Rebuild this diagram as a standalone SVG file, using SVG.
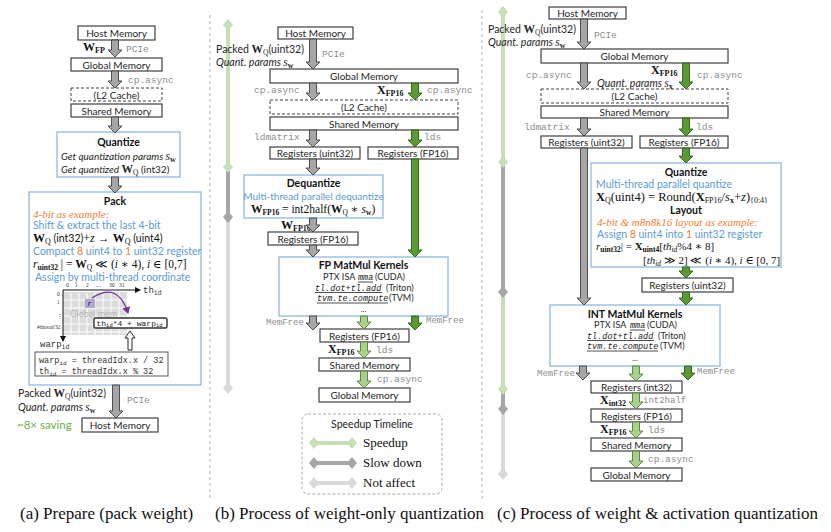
<svg xmlns="http://www.w3.org/2000/svg" width="831" height="532" viewBox="0 0 831 532">
<style>
.box{fill:#fff;stroke:#404040;stroke-width:1.2}
.dash{fill:#fff;stroke:#404040;stroke-width:1;stroke-dasharray:3 2}
.blue{fill:#fff;stroke:#9dc3e6;stroke-width:1.5}
.lbl{font-family:Lato,"Open Sans",sans-serif;font-size:10px;fill:#262626;text-anchor:middle}
.s{font-family:Lato,"Open Sans",sans-serif;font-size:9.5px;fill:#262626}
.hd{font-family:Lato,"Open Sans",sans-serif;font-size:10.5px;font-weight:bold;fill:#111;text-anchor:middle}
.bt{fill:#5b9bd5}
.or{fill:#ed7d31}
.gr{fill:#70ad47}
.mono{font-family:"Liberation Mono","DejaVu Sans Mono",monospace;font-size:9.5px;fill:#8c8c8c}
.mk{font-family:"Liberation Mono","DejaVu Sans Mono",monospace;font-size:9px;fill:#222}
.mi{font-family:"Liberation Mono","DejaVu Sans Mono",monospace;font-size:8.5px;font-style:italic;fill:#222}
.m{font-family:"Liberation Serif","DejaVu Serif",serif;font-size:11px;fill:#111}
.ser{font-family:"Liberation Serif","DejaVu Serif",serif}
.b{font-weight:bold}
.i{font-style:italic}
.ag{fill:#a6a6a6;stroke:#404040;stroke-width:0.9}
.ad{fill:#5a9a33;stroke:#2f5e1a;stroke-width:0.9}
.al{fill:#a9d18e;stroke:#4f7f2f;stroke-width:0.9}
.cap{font-family:"Liberation Serif","DejaVu Serif",serif;font-size:17px;fill:#111}
.div{stroke:#b0b0b0;stroke-width:1;stroke-dasharray:3 3;fill:none}
.ul{stroke:#222;stroke-width:0.8}
</style>
<defs>
<polygon id="dm" points="0,-6 5,0 0,6 -5,0"/>
<marker id="pa" markerWidth="8" markerHeight="8" refX="6" refY="4" orient="auto" markerUnits="userSpaceOnUse"><path d="M0,0 L7,4 L0,8 Z" fill="#7030a0"/></marker>
<marker id="ax" markerWidth="6" markerHeight="6" refX="5" refY="3" orient="auto" markerUnits="userSpaceOnUse"><path d="M0,0 L6,3 L0,6 Z" fill="#111"/></marker>
</defs>
<rect width="831" height="532" fill="#fff"/>

<g id="dividers">
<line class="div" x1="210" y1="15" x2="210" y2="500"/>
<line class="div" x1="482" y1="10" x2="482" y2="500"/>
</g>

<!-- Panel A -->
<g id="a-host1"><rect class="box" x="78" y="26" width="77" height="14"/><text class="lbl" x="116.5" y="37">Host Memory</text></g>
<g id="a-global"><rect class="box" x="71" y="58" width="91" height="13"/><text class="lbl" x="116.5" y="68.5">Global Memory</text></g>
<g id="a-l2"><rect class="dash" x="71" y="88" width="91" height="13"/><text class="lbl" x="116.5" y="98.5">(L2 Cache)</text></g>
<g id="a-shared"><rect class="box" x="71" y="104" width="91" height="13"/><text class="lbl" x="116.5" y="114.5">Shared Memory</text></g>
<g id="a-quantize"><rect class="blue" x="57" y="132" width="123" height="45"/>
<text class="hd" x="118.5" y="146">Quantize</text>
<text class="s i" x="61" y="160" style="font-size:10px">Get quantization params <tspan class="ser" style="font-size:11.5px">s</tspan><tspan class="ser b" style="font-size:8px;font-style:normal" dy="2">w</tspan></text>
<text class="s i" x="61" y="173" style="font-size:10px">Get quantized <tspan class="ser b" style="font-size:11.5px;font-style:normal">W</tspan><tspan class="ser" style="font-size:7.5px;font-style:normal" dy="2">Q</tspan><tspan dy="-2" style="font-style:normal"> (int32)</tspan></text>
</g>
<g id="a-pack"><rect class="blue" x="29" y="192" width="172" height="193"/>
<text class="hd" x="115" y="205">Pack</text>
<text class="ser i or" x="33" y="218" style="font-size:11px">4-bit as example:</text>
<text class="s bt" x="33" y="229" style="font-size:10.5px">Shift &amp; extract the last 4-bit</text>
<text class="m" x="33" y="242" style="font-size:12px"><tspan class="b">W</tspan><tspan style="font-size:8px" dy="2">Q</tspan><tspan dy="-2" style="font-family:Lato,sans-serif;font-size:10.5px"> (int32)</tspan>+<tspan class="i">z</tspan> <tspan class="b">→</tspan> <tspan class="b">W</tspan><tspan style="font-size:8px" dy="2">Q</tspan><tspan dy="-2" style="font-family:Lato,sans-serif;font-size:10.5px"> (uint4)</tspan></text>
<text class="s bt" x="33" y="255" style="font-size:10.5px">Compact <tspan class="or">8</tspan> uint4 to <tspan class="or">1</tspan> uint32 register</text>
<text class="m" x="33" y="268" style="font-size:11.5px"><tspan class="i">r</tspan><tspan class="b" style="font-size:7.5px" dy="2">uint32</tspan><tspan dy="-2"> | = </tspan><tspan class="b">W</tspan><tspan style="font-size:7.5px" dy="2">Q</tspan><tspan dy="-2"> ≪ (</tspan><tspan class="i">i</tspan> ∗ 4), <tspan class="i">i</tspan> ∈ [0,7]</text>
<text class="s bt" x="35" y="281" style="font-size:10.5px">Assign by multi-thread coordinate</text>
<rect x="63" y="292" width="64" height="43" fill="#dcdcdc"/>
<g stroke="#fff" stroke-width="1">
<line x1="71" y1="292" x2="71" y2="335"/><line x1="79" y1="292" x2="79" y2="335"/><line x1="87" y1="292" x2="87" y2="335"/><line x1="95" y1="292" x2="95" y2="335"/><line x1="103" y1="292" x2="103" y2="335"/><line x1="111" y1="292" x2="111" y2="335"/><line x1="119" y1="292" x2="119" y2="335"/>
<line x1="63" y1="300" x2="127" y2="300"/><line x1="63" y1="308" x2="127" y2="308"/><line x1="63" y1="316" x2="127" y2="316"/><line x1="63" y1="324" x2="127" y2="324"/><line x1="63" y1="332" x2="127" y2="332"/>
</g>
<line x1="63" y1="290" x2="140" y2="290" stroke="#111" stroke-width="1" marker-end="url(#ax)"/>
<line x1="63" y1="290" x2="63" y2="341" stroke="#111" stroke-width="1" marker-end="url(#ax)"/>
<g class="ser" style="font-size:5.5px;fill:#333">
<text x="66" y="287">0</text><text x="75" y="287">1</text><text x="86" y="287">2</text><text x="96" y="287">…</text><text x="109" y="287">30</text><text x="119" y="287">31</text>
<text x="57" y="296">0</text><text x="57" y="304">1</text><text x="57" y="318">⋮</text><text x="37" y="329">#thread/32</text>
</g>
<text class="mk" x="143" y="293" style="fill:#333">th<tspan style="font-size:6.5px" dy="2">id</tspan></text>
<text class="mk" x="40" y="347" style="fill:#333">warp<tspan style="font-size:6.5px" dy="2">id</tspan></text>
<text x="70" y="316.5" style="font-family:Lato,sans-serif;font-size:9px;fill:#b3b3b3">Global mem</text>
<rect x="85" y="299" width="10" height="9" fill="#b4a7d6"/>
<text class="m i" x="87.7" y="305.5" style="font-size:8.5px">r</text>
<path d="M92,298 Q118,281 128,313" fill="none" stroke="#7030a0" stroke-width="1.2" marker-end="url(#pa)"/>
<rect x="94" y="318" width="73" height="10" rx="1.5" fill="#fff" stroke="#333" stroke-width="1.4"/>
<text class="mk" x="96.5" y="325.8" style="font-size:8px">th<tspan style="font-size:5.5px" dy="1.5">id</tspan><tspan dy="-1.5">*4 + warp</tspan><tspan style="font-size:5.5px" dy="1.5">id</tspan></text>
<polygon points="128,350 128,338 125,338 130,331 135,338 132,338 132,350" fill="#fff" stroke="#111" stroke-width="0.9"/>
<rect x="35" y="352" width="133" height="24" fill="#fff" stroke="#555" stroke-width="1"/>
<text class="mk" x="39" y="363" style="font-size:8.5px;fill:#333">warp<tspan style="font-size:6px" dy="1.5">id</tspan><tspan dy="-1.5"> = threadIdx.x / 32</tspan></text>
<text class="mk" x="39" y="374" style="font-size:8.5px;fill:#333">th<tspan style="font-size:6px" dy="1.5">id</tspan><tspan dy="-1.5"> = threadIdx.x % 32</tspan></text>
</g>
<g id="a-host2"><rect class="box" x="82" y="418" width="76" height="14"/><text class="lbl" x="120" y="429">Host Memory</text></g>
<g id="a-labels">
<text class="m b" x="83" y="51" style="font-size:12px">W<tspan style="font-size:8px" dy="2">FP</tspan></text>
<text class="mono" x="126" y="52">PCIe</text>
<text class="mono" x="128" y="83">cp.async</text>
<text class="s" x="18" y="397" style="font-size:10.5px">Packed <tspan class="ser b" style="font-size:11.5px">W</tspan><tspan class="ser" style="font-size:7.5px" dy="2">Q</tspan><tspan dy="-2">(uint32)</tspan></text>
<text class="s i" x="18" y="411" style="font-size:10.5px">Quant. params <tspan class="ser" style="font-size:11.5px">s</tspan><tspan class="ser b" style="font-size:8px;font-style:normal" dy="2">w</tspan></text>
<text class="mono" x="127" y="403">PCIe</text>
<text class="s gr" x="17" y="429" style="font-size:11.5px">~8× saving</text>
</g>
<text class="cap" x="20" y="519">(a) Prepare (pack weight)</text>

<!-- Panel B -->
<g id="b-timeline">
<line x1="228" y1="25" x2="228" y2="167" stroke="#c5e0b4" stroke-width="4"/>
<line x1="228" y1="167" x2="228" y2="217" stroke="#a6a6a6" stroke-width="4"/>
<line x1="228" y1="217" x2="228" y2="388" stroke="#d9d9d9" stroke-width="4"/>
<use href="#dm" x="228" y="25" fill="#c5e0b4"/>
<use href="#dm" x="228" y="167" fill="#c5e0b4"/>
<use href="#dm" x="228" y="217" fill="#a6a6a6"/>
<use href="#dm" x="228" y="388" fill="#d9d9d9"/>
</g>
<g id="b-host"><rect class="box" x="278" y="27" width="75" height="12"/><text class="lbl" x="315.5" y="37">Host Memory</text></g>
<g id="b-global"><rect class="box" x="270" y="69" width="188" height="14"/><text class="lbl" x="364" y="80">Global Memory</text></g>
<g id="b-l2"><rect class="dash" x="270" y="100" width="188" height="14"/><text class="lbl" x="364" y="111">(L2 Cache)</text></g>
<g id="b-shared"><rect class="box" x="270" y="117" width="188" height="13"/><text class="lbl" x="364" y="127.5">Shared Memory</text></g>
<g id="b-reg-u32"><rect class="box" x="270" y="147" width="90" height="12"/><text class="lbl" x="315" y="157">Registers (uint32)</text></g>
<g id="b-reg-fp16a"><rect class="box" x="368" y="147" width="90" height="12"/><text class="lbl" x="413" y="157">Registers (FP16)</text></g>
<g id="b-dequant"><rect class="blue" x="244" y="175" width="139" height="43"/>
<text class="hd" x="313.5" y="187">Dequantize</text>
<text class="s bt" x="313.5" y="200" style="text-anchor:middle;font-size:10px">Multi-thread parallel dequantize</text>
<text class="m" x="251" y="213" style="font-size:11.5px"><tspan class="b">W</tspan><tspan class="b" style="font-size:7.5px" dy="2">FP16</tspan><tspan dy="-2"> = int2half(</tspan><tspan class="b">W</tspan><tspan style="font-size:7.5px" dy="2">Q</tspan><tspan dy="-2"> ∗ </tspan><tspan class="i">s</tspan><tspan class="b" style="font-size:7.5px" dy="2">w</tspan><tspan dy="-2">)</tspan></text>
</g>
<g id="b-reg-fp16b"><rect class="box" x="268" y="232" width="90" height="13"/><text class="lbl" x="313" y="242.5">Registers (FP16)</text></g>
<g id="b-fpmm"><rect class="blue" x="279" y="257" width="169" height="59"/>
<text class="hd" x="363.5" y="269">FP MatMul Kernels</text>
<text class="s" x="323" y="280" style="font-size:9px">PTX ISA</text>
<text class="mi" x="358" y="280">mma</text><line class="ul" x1="358" y1="282" x2="373" y2="282"/>
<text class="s" x="375" y="280" style="font-size:9px">(CUDA)</text>
<text class="mi" x="315" y="290.5">tl.dot+tl.add</text><line class="ul" x1="315" y1="292.5" x2="382" y2="292.5"/>
<text class="s" x="386" y="290.5" style="font-size:9px">(Triton)</text>
<text class="mi" x="317" y="301">tvm.te.compute</text><line class="ul" x1="317" y1="303" x2="388" y2="303"/>
<text class="s" x="389" y="301" style="font-size:9px">(TVM)</text>
<text class="s" x="363.5" y="312" style="text-anchor:middle;font-size:8px">...</text>
</g>
<g id="b-reg-fp16c"><rect class="box" x="320" y="329" width="89" height="13"/><text class="lbl" x="364.5" y="339.5">Registers (FP16)</text></g>
<g id="b-shared2"><rect class="box" x="319" y="358" width="91" height="13"/><text class="lbl" x="364.5" y="368.5">Shared Memory</text></g>
<g id="b-global2"><rect class="box" x="319" y="388" width="91" height="14"/><text class="lbl" x="364.5" y="399">Global Memory</text></g>
<g id="b-labels">
<text class="s" x="216" y="53" style="font-size:10.5px">Packed <tspan class="ser b" style="font-size:11.5px">W</tspan><tspan class="ser" style="font-size:7.5px" dy="2">Q</tspan><tspan dy="-2">(uint32)</tspan></text>
<text class="s i" x="216" y="66" style="font-size:10.5px">Quant. params <tspan class="ser" style="font-size:11.5px">s</tspan><tspan class="ser b" style="font-size:8px;font-style:normal" dy="2">w</tspan></text>
<text class="mono" x="322" y="57">PCIe</text>
<text class="mono" x="254" y="93">cp.async</text>
<text class="m b" x="377" y="94" style="font-size:12px">X<tspan style="font-size:8px" dy="2">FP16</tspan></text>
<text class="mono" x="427" y="93">cp.async</text>
<text class="mono" x="254" y="140">ldmatrix</text>
<text class="mono" x="424" y="140">lds</text>
<text class="m b" x="281" y="229" style="font-size:12px">W<tspan style="font-size:8px" dy="2">FP16</tspan></text>
<text class="mono" x="266" y="325" style="font-size:9px">MemFree</text>
<text class="mono" x="426" y="323" style="font-size:9px">MemFree</text>
<text class="m b" x="328" y="353" style="font-size:12px">X<tspan style="font-size:8px" dy="2">FP16</tspan></text>
<text class="mono" x="376" y="353">lds</text>
<text class="mono" x="377" y="382">cp.async</text>
</g>
<g id="legend">
<rect x="302" y="414" width="140" height="80" rx="6" fill="none" stroke="#aaa" stroke-width="1" stroke-dasharray="3 2"/>
<text class="hd" x="372" y="428" style="font-weight:normal;fill:#222">Speedup Timeline</text>
<line x1="314" y1="443" x2="352" y2="443" stroke="#c5e0b4" stroke-width="4"/>
<use href="#dm" x="314" y="443" fill="#c5e0b4"/><use href="#dm" x="352" y="443" fill="#c5e0b4"/>
<line x1="314" y1="463" x2="352" y2="463" stroke="#a6a6a6" stroke-width="4"/>
<use href="#dm" x="314" y="463" fill="#a6a6a6"/><use href="#dm" x="352" y="463" fill="#a6a6a6"/>
<line x1="314" y1="483" x2="352" y2="483" stroke="#d9d9d9" stroke-width="4"/>
<use href="#dm" x="314" y="483" fill="#d9d9d9"/><use href="#dm" x="352" y="483" fill="#d9d9d9"/>
<text class="ser" x="363" y="447" style="font-size:13px;fill:#111">Speedup</text>
<text class="ser" x="363" y="467" style="font-size:13px;fill:#111">Slow down</text>
<text class="ser" x="363" y="487" style="font-size:13px;fill:#111">Not affect</text>
</g>
<text class="cap" x="215" y="519">(b) Process of weight-only quantization</text>

<!-- Panel C -->
<g id="c-timeline">
<line x1="503" y1="12" x2="503" y2="162" stroke="#c5e0b4" stroke-width="4"/>
<line x1="503" y1="162" x2="503" y2="292" stroke="#a6a6a6" stroke-width="4"/>
<line x1="503" y1="292" x2="503" y2="389" stroke="#c5e0b4" stroke-width="4"/>
<line x1="503" y1="389" x2="503" y2="409" stroke="#a6a6a6" stroke-width="4"/>
<line x1="503" y1="409" x2="503" y2="474" stroke="#d9d9d9" stroke-width="4"/>
<use href="#dm" x="503" y="12" fill="#c5e0b4"/>
<use href="#dm" x="503" y="162" fill="#c5e0b4"/>
<use href="#dm" x="503" y="292" fill="#a6a6a6"/>
<use href="#dm" x="503" y="389" fill="#c5e0b4"/>
<use href="#dm" x="503" y="409" fill="#a6a6a6"/>
<use href="#dm" x="503" y="474" fill="#d9d9d9"/>
</g>
<g id="c-host"><rect class="box" x="549" y="7" width="77" height="12"/><text class="lbl" x="587.5" y="17">Host Memory</text></g>
<g id="c-global"><rect class="box" x="541" y="49" width="187" height="14"/><text class="lbl" x="634.5" y="60">Global Memory</text></g>
<g id="c-l2"><rect class="dash" x="541" y="89" width="187" height="14"/><text class="lbl" x="634.5" y="100">(L2 Cache)</text></g>
<g id="c-shared"><rect class="box" x="541" y="106" width="187" height="12"/><text class="lbl" x="634.5" y="116">Shared Memory</text></g>
<g id="c-reg-u32"><rect class="box" x="541" y="136" width="91" height="12"/><text class="lbl" x="586.5" y="146">Registers (uint32)</text></g>
<g id="c-reg-fp16a"><rect class="box" x="640" y="136" width="88" height="12"/><text class="lbl" x="684" y="146">Registers (FP16)</text></g>
<g id="c-quantize"><rect class="blue" x="591" y="163" width="190" height="104"/>
<text class="hd" x="686" y="176">Quantize</text>
<text class="s bt" x="596" y="188" style="font-size:10.5px">Multi-thread parallel quantize</text>
<text class="m" x="596" y="201" style="font-size:12.5px"><tspan class="b">X</tspan><tspan style="font-size:8px" dy="2">Q</tspan><tspan dy="-2">(uint4) = Round(</tspan><tspan class="b">X</tspan><tspan style="font-size:8px" dy="2">FP16</tspan><tspan dy="-2">/</tspan><tspan class="i">s</tspan><tspan class="b" style="font-size:8px" dy="2">x</tspan><tspan dy="-2">+</tspan><tspan class="i">z</tspan>)<tspan style="font-size:8px" dy="2">{0:4}</tspan></text>
<text class="hd" x="686" y="214">Layout</text>
<text class="ser i or" x="597" y="226" style="font-size:11px">4-bit &amp; m8n8k16 layout as example:</text>
<text class="s bt" x="597" y="238" style="font-size:10.5px">Assign <tspan class="or">8</tspan> uint4 into <tspan class="or">1</tspan> uint32 register</text>
<text class="m" x="596" y="250" style="font-size:11px"><tspan class="i">r</tspan><tspan class="b" style="font-size:7.5px" dy="2">uint32</tspan><tspan dy="-2">| = </tspan><tspan class="b">X</tspan><tspan class="b" style="font-size:7.5px" dy="2">uint4</tspan><tspan dy="-2">[</tspan><tspan class="i">th</tspan><tspan class="i" style="font-size:7.5px" dy="2">id</tspan><tspan dy="-2">%4 ∗ 8]</tspan></text>
<text class="m" x="643" y="263.5" style="font-size:11px">[<tspan class="i">th</tspan><tspan class="i" style="font-size:7.5px" dy="2">id</tspan><tspan dy="-2"> ≫ 2] ≪ (</tspan><tspan class="i">i</tspan> ∗ 4), <tspan class="i">i</tspan> ∈ [0, 7]</text>
</g>
<g id="c-reg-u32b"><rect class="box" x="642" y="278" width="91" height="14"/><text class="lbl" x="687.5" y="289">Registers (uint32)</text></g>
<g id="c-intmm"><rect class="blue" x="550" y="305" width="170" height="61"/>
<text class="hd" x="635" y="318">INT MatMul Kernels</text>
<text class="s" x="594" y="328" style="font-size:9px">PTX ISA</text>
<text class="mi" x="630" y="328">mma</text><line class="ul" x1="630" y1="330" x2="645" y2="330"/>
<text class="s" x="647" y="328" style="font-size:9px">(CUDA)</text>
<text class="mi" x="587" y="338.5">tl.dot+tl.add</text><line class="ul" x1="587" y1="340.5" x2="654" y2="340.5"/>
<text class="s" x="658" y="338.5" style="font-size:9px">(Triton)</text>
<text class="mi" x="587" y="349">tvm.te.compute</text><line class="ul" x1="587" y1="351" x2="658" y2="351"/>
<text class="s" x="660" y="349" style="font-size:9px">(TVM)</text>
<text class="s" x="635" y="361" style="text-anchor:middle;font-size:8px">...</text>
</g>
<g id="c-reg-i32"><rect class="box" x="591" y="381" width="91" height="12"/><text class="lbl" x="636.5" y="391">Registers (int32)</text></g>
<g id="c-reg-fp16b"><rect class="box" x="591" y="409" width="91" height="13"/><text class="lbl" x="636.5" y="419.5">Registers (FP16)</text></g>
<g id="c-shared2"><rect class="box" x="591" y="438" width="91" height="13"/><text class="lbl" x="636.5" y="448.5">Shared Memory</text></g>
<g id="c-global2"><rect class="box" x="591" y="468" width="91" height="13"/><text class="lbl" x="636.5" y="478.5">Global Memory</text></g>
<g id="c-labels">
<text class="s" x="488" y="33" style="font-size:10.5px">Packed <tspan class="ser b" style="font-size:11.5px">W</tspan><tspan class="ser" style="font-size:7.5px" dy="2">Q</tspan><tspan dy="-2">(uint32)</tspan></text>
<text class="s i" x="488" y="46" style="font-size:10.5px">Quant. params <tspan class="ser" style="font-size:11.5px">s</tspan><tspan class="ser b" style="font-size:8px;font-style:normal" dy="2">w</tspan></text>
<text class="mono" x="594" y="38">PCIe</text>
<text class="mono" x="526" y="78">cp.async</text>
<text class="m b" x="651" y="74" style="font-size:12px">X<tspan style="font-size:8px" dy="2">FP16</tspan></text>
<text class="mono" x="697" y="78">cp.async</text>
<text class="s i" x="597" y="87" style="font-size:10.5px">Quant. params <tspan class="ser" style="font-size:11.5px">s</tspan><tspan class="ser b" style="font-size:8px;font-style:normal" dy="2">x</tspan></text>
<text class="mono" x="524" y="130">ldmatrix</text>
<text class="mono" x="696" y="130">lds</text>
<text class="mono" x="537" y="376" style="font-size:9px">MemFree</text>
<text class="mono" x="697" y="374" style="font-size:9px">MemFree</text>
<text class="m b" x="600" y="404" style="font-size:12px">X<tspan style="font-size:8px" dy="2">int32</tspan></text>
<text class="mono" x="643" y="403" style="font-size:9px">int2half</text>
<text class="m b" x="600" y="433" style="font-size:12px">X<tspan style="font-size:8px" dy="2">FP16</tspan></text>
<text class="mono" x="648" y="433">lds</text>
<text class="mono" x="648" y="462">cp.async</text>
</g>
<text class="cap" x="497" y="519">(c) Process of weight &amp; activation quantization</text>

<g id="connectors">
<path class="ag" d="M111.5 40 H118.5 V50 H122 L115 57 L108 50 H111.5 Z"/>
<path class="ag" d="M111.5 71 H118.5 V81 H122 L115 88 L108 81 H111.5 Z"/>
<path class="ag" d="M111.5 117 H118.5 V126 H122 L115 133 L108 126 H111.5 Z"/>
<path class="ag" d="M111.5 177 H118.5 V186 H122 L115 193 L108 186 H111.5 Z"/>
<path class="ag" d="M112.5 385 H119.5 V411 H123 L116 418 L109 411 H112.5 Z"/>

<path class="ag" d="M309.5 39 H316.5 V62 H320 L313 69 L306 62 H309.5 Z"/>
<path class="ag" d="M309.5 83 H316.5 V93 H320 L313 100 L306 93 H309.5 Z"/>
<path class="ad" d="M411.5 83 H418.5 V93 H422 L415 100 L408 93 H411.5 Z"/>
<path class="ag" d="M309.5 130 H316.5 V140 H320 L313 147 L306 140 H309.5 Z"/>
<path class="ad" d="M411.5 130 H418.5 V140 H422 L415 147 L408 140 H411.5 Z"/>
<path class="ag" d="M309.5 159 H316.5 V168 H320 L313 175 L306 168 H309.5 Z"/>
<path class="ad" d="M411.5 159 H418.5 V250 H422 L415 257 L408 250 H411.5 Z"/>
<path class="ag" d="M309.5 218 H316.5 V225 H320 L313 232 L306 225 H309.5 Z"/>
<path class="ag" d="M309.5 245 H316.5 V250 H320 L313 257 L306 250 H309.5 Z"/>
<path class="ag" d="M309.5 316 H316.5 V323 H320 L313 330 L306 323 H309.5 Z"/>
<path class="al" d="M360.5 316 H367.5 V322 H371 L364 329 L357 322 H360.5 Z"/>
<path class="ad" d="M411.5 316 H418.5 V323 H422 L415 330 L408 323 H411.5 Z"/>
<path class="al" d="M360.5 342 H367.5 V351 H371 L364 358 L357 351 H360.5 Z"/>
<path class="al" d="M360.5 371 H367.5 V381 H371 L364 388 L357 381 H360.5 Z"/>

<path class="ag" d="M580.5 19 H587.5 V42 H591 L584 49 L577 42 H580.5 Z"/>
<path class="ag" d="M580.5 63 H587.5 V82 H591 L584 89 L577 82 H580.5 Z"/>
<path class="ad" d="M682.5 63 H689.5 V82 H693 L686 89 L679 82 H682.5 Z"/>
<path class="ag" d="M580.5 118 H587.5 V129 H591 L584 136 L577 129 H580.5 Z"/>
<path class="ad" d="M682.5 118 H689.5 V129 H693 L686 136 L679 129 H682.5 Z"/>
<path class="ag" d="M580.5 148 H587.5 V298 H591 L584 305 L577 298 H580.5 Z"/>
<path class="ad" d="M682.5 148 H689.5 V156 H693 L686 163 L679 156 H682.5 Z"/>
<path class="ad" d="M682.5 267 H689.5 V271 H693 L686 278 L679 271 H682.5 Z"/>
<path class="ad" d="M682.5 292 H689.5 V298 H693 L686 305 L679 298 H682.5 Z"/>
<path class="ag" d="M579.5 366 H586.5 V373 H590 L583 380 L576 373 H579.5 Z"/>
<path class="al" d="M632.5 366 H639.5 V374 H643 L636 381 L629 374 H632.5 Z"/>
<path class="ad" d="M684.5 366 H691.5 V373 H695 L688 380 L681 373 H684.5 Z"/>
<path class="al" d="M632.5 393 H639.5 V402 H643 L636 409 L629 402 H632.5 Z"/>
<path class="al" d="M632.5 422 H639.5 V431 H643 L636 438 L629 431 H632.5 Z"/>
<path class="al" d="M632.5 451 H639.5 V461 H643 L636 468 L629 461 H632.5 Z"/>
</g>
</svg>
